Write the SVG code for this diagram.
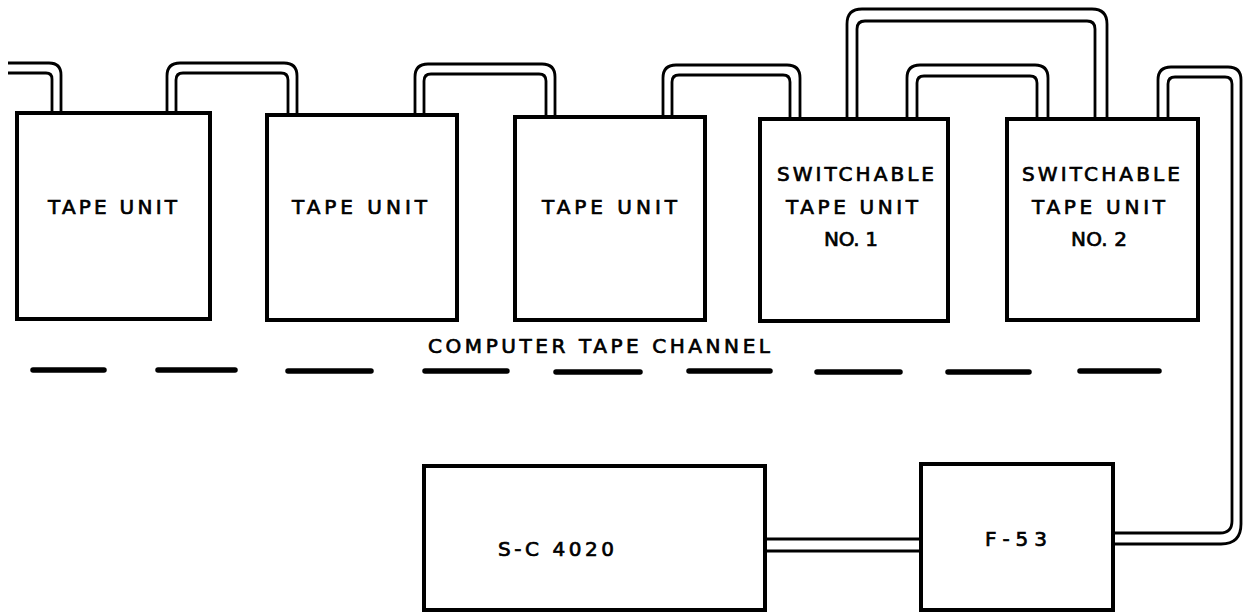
<svg xmlns="http://www.w3.org/2000/svg" width="1243" height="612" viewBox="0 0 1243 612">
<style>
.box{fill:none;stroke:#000;stroke-width:4;stroke-linejoin:miter}
.cab{fill:none;stroke:#000;stroke-width:2.8;stroke-linecap:butt}
.dash{stroke:#000;stroke-width:5.5;stroke-linecap:round}
.t{font-family:"DejaVu Sans","Liberation Sans",sans-serif;font-size:20px;fill:#000;stroke:#000;stroke-width:0.7;text-anchor:start}
</style>
<rect width="1243" height="612" fill="#fff"/>
<g id="connectors">
  <path class="cab" d="M8,63 H49 Q61,63 61,75 V113"/>
  <path class="cab" d="M8,73 H46 Q52,73 52,79 V113"/>
  <path class="cab" d="M167,115 V76 Q167,63 180,63 H284 Q297,63 297,76 V115"/>
  <path class="cab" d="M176,115 V80 Q176,73 183,73 H281 Q288,73 288,80 V115"/>
  <path class="cab" d="M415,117 V77 Q415,64 428,64 H542 Q555,64 555,77 V117"/>
  <path class="cab" d="M424,117 V81 Q424,74 431,74 H539 Q546,74 546,81 V117"/>
  <path class="cab" d="M663,118 V78 Q663,65 676,65 H787 Q800,65 800,78 V118"/>
  <path class="cab" d="M672,118 V82 Q672,75 679,75 H783 Q790,75 790,82 V118"/>
  <path class="cab" d="M847,119 V24 Q847,9 862,9 H1092 Q1107,9 1107,24 V119"/>
  <path class="cab" d="M857,119 V29 Q857,21 865,21 H1087 Q1095,21 1095,29 V119"/>
  <path class="cab" d="M907,119 V78 Q907,65 920,65 H1035 Q1048,65 1048,78 V119"/>
  <path class="cab" d="M917,119 V83 Q917,76 924,76 H1030 Q1037,76 1037,83 V119"/>
  <path class="cab" d="M1158,119 V80 Q1158,67 1171,67 H1228 Q1241,67 1241,80 V524 Q1241,544 1221,544 H1113"/>
  <path class="cab" d="M1168,119 V84 Q1168,77 1175,77 H1225 Q1232,77 1232,84 V521 Q1232,533 1220,533 H1113"/>
  <path class="cab" d="M765,539 H921"/>
  <path class="cab" d="M765,551 H921"/>
</g>
<g id="channel">
  <line class="dash" x1="33" y1="370" x2="104" y2="370"/>
  <line class="dash" x1="158" y1="370" x2="235" y2="370"/>
  <line class="dash" x1="288" y1="371" x2="371" y2="371"/>
  <line class="dash" x1="425" y1="371" x2="507" y2="371"/>
  <line class="dash" x1="556" y1="372" x2="640" y2="372"/>
  <line class="dash" x1="689" y1="371" x2="770" y2="371"/>
  <line class="dash" x1="817" y1="372" x2="900" y2="372"/>
  <line class="dash" x1="948" y1="372" x2="1029" y2="372"/>
  <line class="dash" x1="1080" y1="371" x2="1159" y2="371"/>
  <text class="t" x="428" y="353" textLength="342" lengthAdjust="spacing">COMPUTER TAPE CHANNEL</text>
</g>
<g id="tape1">
  <rect class="box" x="17" y="113" width="193" height="206"/>
  <text class="t" x="48" y="214" textLength="129" lengthAdjust="spacing">TAPE UNIT</text>
</g>
<g id="tape2">
  <rect class="box" x="267" y="115" width="190" height="205"/>
  <text class="t" x="292" y="214" textLength="135" lengthAdjust="spacing">TAPE UNIT</text>
</g>
<g id="tape3">
  <rect class="box" x="515" y="117" width="190" height="203"/>
  <text class="t" x="542" y="214" textLength="135" lengthAdjust="spacing">TAPE UNIT</text>
</g>
<g id="switch1">
  <rect class="box" x="760" y="119" width="188" height="202"/>
  <text class="t" x="777" y="181" textLength="157" lengthAdjust="spacing">SWITCHABLE</text>
  <text class="t" x="786" y="214" textLength="132" lengthAdjust="spacing">TAPE UNIT</text>
  <text class="t" x="824" y="246" textLength="54" lengthAdjust="spacing">NO. 1</text>
</g>
<g id="switch2">
  <rect class="box" x="1007" y="119" width="191" height="201"/>
  <text class="t" x="1022" y="181" textLength="158" lengthAdjust="spacing">SWITCHABLE</text>
  <text class="t" x="1032" y="214" textLength="133" lengthAdjust="spacing">TAPE UNIT</text>
  <text class="t" x="1071" y="246" textLength="56" lengthAdjust="spacing">NO. 2</text>
</g>
<g id="sc4020">
  <rect class="box" x="424" y="466" width="341" height="144"/>
  <text class="t" x="498" y="556" textLength="116" lengthAdjust="spacing">S-C 4020</text>
</g>
<g id="f53">
  <rect class="box" x="921" y="464" width="192" height="146"/>
  <text class="t" x="985" y="546" textLength="62" lengthAdjust="spacing">F-53</text>
</g>
</svg>
